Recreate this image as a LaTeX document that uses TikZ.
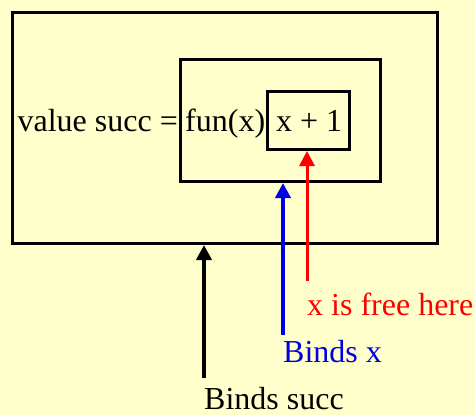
\documentclass[tikz,border=0pt]{standalone}
\usepackage{fontspec}
\setmainfont{Liberation Serif}
\usetikzlibrary{arrows.meta,positioning}
\definecolor{scopeBg}{HTML}{FFFFCC}
\definecolor{scopeRed}{HTML}{FF0000}
\definecolor{scopeBlue}{HTML}{0000E0}

\tikzset{
  scopebox/.style={draw=black,line width=3pt,inner sep=0pt,anchor=north west},
  codetext/.style={inner sep=0pt,font=\fontsize{32}{38}\selectfont},
  bindarrow/.style={line width=4pt,-{Triangle[length=15pt,width=15pt]}},
}

\begin{document}
\begin{tikzpicture}[x=1pt,y=-1pt]
  \fill[scopeBg] (0,0) rectangle (475,415);
  \useasboundingbox (0,0) rectangle (475,415);

  % nested scopes
  \node[scopebox,minimum width=425pt,minimum height=231pt] (outer) at (11,11) {};
  \node[scopebox,minimum width=200pt,minimum height=122pt] (middle) at (179,58) {};
  \node[scopebox,minimum width=82pt,minimum height=58pt] (inner) at (266,90) {};

  % code
  \node[codetext,anchor=base east] (lhs) at (178,131) {value succ =};
  \node[codetext,anchor=base west] (fun) at (185,131) {fun(x)};
  \node[codetext,anchor=base west] (body) at (276,131) {x + 1};

  % labels
  \node[codetext,anchor=base west] (succlbl) at (204,409) {Binds succ};
  \node[codetext,anchor=base west,text=scopeBlue] (xlbl) at (283,362) {Binds x};
  \node[codetext,anchor=base west,text=scopeRed] (freelbl) at (307,315) {x is free here};

  \draw[bindarrow] ([yshift=31pt]succlbl.base west) -- (succlbl.west |- outer.south);
  \draw[bindarrow,draw=scopeBlue,fill=scopeBlue] ([yshift=27pt]xlbl.base west) -- (xlbl.west |- middle.south);
  \draw[bindarrow,line width=3pt,draw=scopeRed,fill=scopeRed] ([yshift=34pt]freelbl.base west) -- (freelbl.west |- inner.south);
\end{tikzpicture}
\end{document}
